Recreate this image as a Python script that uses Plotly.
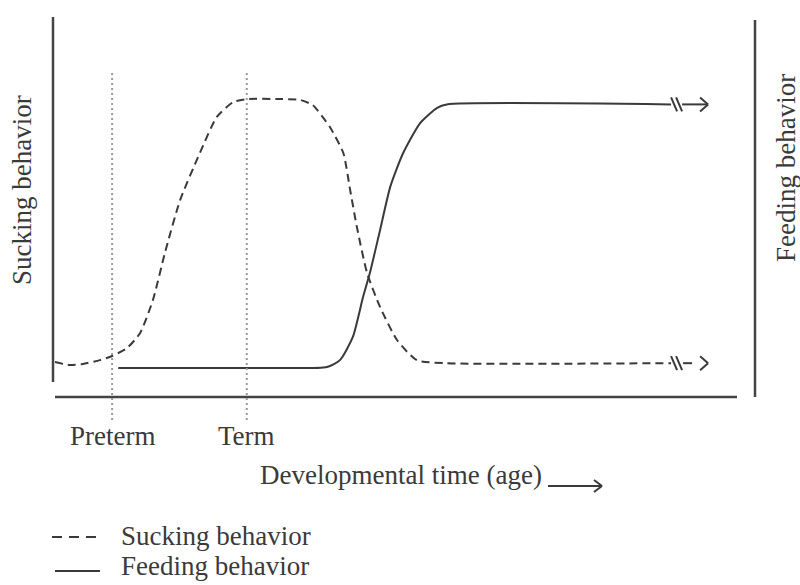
import plotly.graph_objects as go

# ---- data (arbitrary schematic units: time 0-100, behavior level 0-100) ----
sucking_time = [0, 2.2, 4.1, 6.6, 8.4, 10.6, 12.5, 14.4, 16.2, 18.4, 21.3, 23.8, 26.2, 28.2,
                33.1, 36.0, 37.9, 40.4, 42.4, 43.4, 44.4, 45.9, 47.8, 50.3, 53.2, 57.6, 90.6]
sucking_level = [9.2, 8.4, 8.7, 9.7, 10.8, 12.9, 16.8, 25.5, 38.2, 51.8, 64.2, 73.7, 77.6, 78.4,
                 78.4, 78.2, 76.8, 71.1, 64.2, 54.5, 44.7, 32.6, 23.7, 15.0, 9.7, 8.9, 8.9]

feeding_time = [9.3, 33.1, 40.0, 41.9, 43.8, 45.3, 46.3, 47.8, 49.3, 51.2, 53.7, 56.2, 57.6, 90.6]
feeding_level = [7.6, 7.6, 7.9, 9.7, 15.8, 26.3, 32.6, 43.9, 55.3, 64.2, 72.1, 76.1, 77.0, 77.0]

milestone_labels = ["Preterm", "Term"]
milestone_times = [8.4, 28.2]

series_names = ["Sucking behavior", "Feeding behavior"]
x_title = "Developmental time (age)"

# ---- layout geometry ----
W, H = 800, 585
X0_PX, X_SCALE = 55.0, 6.8     # pixel of time 0, px per time unit
Y0_PX, Y_SCALE = 397.0, 3.8    # pixel of level 0, px per level unit
x_range = [(0 - X0_PX) / X_SCALE, (W - X0_PX) / X_SCALE]
y_range = [(Y0_PX - H) / Y_SCALE, Y0_PX / Y_SCALE]

def px_x(t):
    return X0_PX + t * X_SCALE

def px_y(v):
    return Y0_PX - v * Y_SCALE

def PX(px):
    return px / W

def PY(py):
    return 1 - py / H

INK = "#3a3a3a"
FONT = "Liberation Serif"
FS = 27

fig = go.Figure()
fig.add_trace(go.Scatter(x=sucking_time, y=sucking_level, mode="lines",
                         line=dict(color=INK, width=2, dash="8px,5px", shape="spline", smoothing=0.6),
                         name=series_names[0], hoverinfo="skip"))
fig.add_trace(go.Scatter(x=feeding_time, y=feeding_level, mode="lines",
                         line=dict(color=INK, width=2, shape="spline", smoothing=0.6),
                         name=series_names[1], hoverinfo="skip"))

shapes = []
def seg(x0, y0, x1, y1, width=2, color=INK, dash="solid"):
    shapes.append(dict(type="line", xref="paper", yref="paper",
                       x0=PX(x0), y0=PY(y0), x1=PX(x1), y1=PY(y1),
                       line=dict(color=color, width=width, dash=dash)))

# axes frame
seg(53, 17, 53, 382, width=2.5, color="#444")
seg(55, 397, 737, 397, width=2.5, color="#444")
seg(755, 20, 755, 397, width=2.5, color="#444")

# milestone dotted verticals
for t in milestone_times:
    shapes.append(dict(type="line", xref="x", yref="paper",
                       x0=t, x1=t, y0=PY(73), y1=PY(420),
                       line=dict(color="#9a9a9a", width=2, dash="2px,3px")))

# break marks + arrows at series ends
for tx, lv, dash in [(sucking_time, sucking_level, "dash"), (feeding_time, feeding_level, "solid")]:
    ex = px_x(tx[-1])
    ey = px_y(lv[-1])
    for off in (3, 8):
        seg(ex + off - 3, ey - 7, ex + off + 3, ey + 7, width=2)
    if dash == "solid":
        seg(ex + 11, ey, ex + 37, ey, width=2)
    else:
        seg(ex + 12, ey, ex + 21, ey, width=2)
    seg(ex + 29, ey - 7, ex + 37, ey, width=2)
    seg(ex + 29, ey + 7, ex + 37, ey, width=2)

# developmental time arrow
seg(548, 486, 602, 486, width=2)
seg(594, 480, 602, 486, width=2)
seg(594, 492, 602, 486, width=2)

# legend samples
seg(52, 537, 62, 537, width=2)
seg(69, 537, 79, 537, width=2)
seg(86, 537, 96, 537, width=2)
seg(55, 571, 100, 571, width=2)

annotations = []
def txt(text, x, y, xanchor="center", textangle=0, size=FS):
    annotations.append(dict(text=text, xref="paper", yref="paper", x=PX(x), y=PY(y),
                            xanchor=xanchor, yanchor="middle", showarrow=False,
                            textangle=textangle,
                            font=dict(family=FONT, size=size, color=INK)))

for lab, t in zip(milestone_labels, milestone_times):
    annotations.append(dict(text=lab, xref="x", yref="paper", x=t, y=PY(436),
                            xanchor="center", yanchor="middle", showarrow=False,
                            font=dict(family=FONT, size=FS, color=INK)))

txt(x_title, 401, 475)
txt(series_names[0], 22, 190, textangle=-90)
txt(series_names[1], 786, 168, textangle=-90)
txt(series_names[0], 119, 536, xanchor="left")
txt(series_names[1], 119, 566, xanchor="left")

fig.update_layout(
    width=W, height=H,
    margin=dict(l=0, r=0, t=0, b=0),
    paper_bgcolor="white", plot_bgcolor="white",
    showlegend=False,
    xaxis=dict(range=x_range, visible=False, fixedrange=True),
    yaxis=dict(range=y_range, visible=False, fixedrange=True),
    shapes=shapes, annotations=annotations,
)

fig.write_html("out.html", config={"displayModeBar": False},
               post_script="document.body.style.margin='0';document.body.style.overflow='hidden';")
